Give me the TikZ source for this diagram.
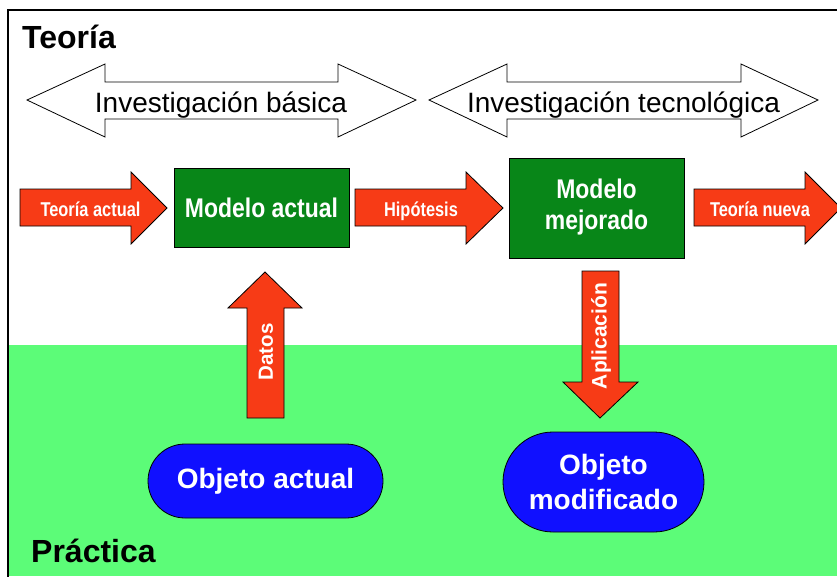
\documentclass[tikz,border=0pt]{standalone}
\usepackage{fontspec}
\setmainfont{Liberation Sans}
\usetikzlibrary{shapes.misc}
\definecolor{redA}{RGB}{247,59,22}
\definecolor{greenD}{RGB}{8,134,24}
\definecolor{blueO}{RGB}{16,16,255}
\definecolor{greenL}{RGB}{92,252,120}
\tikzset{
  redarrow/.style={fill=redA, draw=black, line width=0.8pt, line join=miter},
  dblarrow/.style={fill=white, draw=black, line width=0.8pt},
  modelbox/.style={rectangle, fill=greenD, draw=black, line width=0.8pt, text=white, font=\bfseries\fontsize{27}{32}\selectfont, align=center},
  objbox/.style={rectangle, fill=blueO, draw=black, line width=0.8pt, text=white, font=\bfseries\fontsize{28}{35}\selectfont, align=center},
  arrowtext/.style={text=white, font=\bfseries\fontsize{20}{22}\selectfont, inner sep=0pt},
  bigtext/.style={font=\fontsize{28}{30}\selectfont, inner sep=0pt},
  headtext/.style={font=\bfseries\fontsize{32}{34}\selectfont, inner sep=0pt}
}
\newcommand{\narrow}[1]{\scalebox{0.85}[1]{#1}}
\newcommand{\narrowb}[1]{\scalebox{0.82}[1]{#1}}
\begin{document}
\begin{tikzpicture}[x=1pt,y=-1pt]
\useasboundingbox (0,0) rectangle (837,576);
\clip (0,0) rectangle (837,576);
% background regions
\fill[white] (0,0) rectangle (837,576);
\fill[greenL] (9,345) rectangle (837,576);
\draw[line width=2.5pt] (8,577) -- (8,10) -- (840,10);
% headings
\node[headtext, anchor=base west] (teoria) at (22,48) {Teoría};
\node[headtext, anchor=base west] (practica) at (31,562) {Práctica};
% double arrows
\draw[dblarrow] (27,100) -- (105,64) -- (105,82) -- (338,82) -- (338,64) -- (416,100) -- (338,137) -- (338,119) -- (105,119) -- (105,137) -- cycle;
\node[bigtext, anchor=base] (basica) at (221,112) {Investigación básica};
\draw[dblarrow] (429,100) -- (507,64) -- (507,82) -- (741,82) -- (741,64) -- (818,100) -- (741,137) -- (741,119) -- (507,119) -- (507,137) -- cycle;
\node[bigtext, anchor=base] (tecno) at (623.5,112) {Investigación tecnológica};
% red horizontal arrows
\draw[redarrow] (20,189) -- (131,189) -- (131,172) -- (167,208) -- (131,244) -- (131,226) -- (20,226) -- cycle;
\node[arrowtext, anchor=base] (tactual) at (90.5,216) {\narrowb{Teoría actual}};
\draw[redarrow] (355,189) -- (466,189) -- (466,172) -- (503,208) -- (466,244) -- (466,226) -- (355,226) -- cycle;
\node[arrowtext, anchor=base] (hipo) at (421,216) {\narrowb{Hipótesis}};
\draw[redarrow] (694,189) -- (805,189) -- (805,172) -- (841,208) -- (805,244) -- (805,226) -- (694,226) -- cycle;
\node[arrowtext, anchor=base] (tnueva) at (760,216) {\narrowb{Teoría nueva}};
% model boxes
\node[modelbox, minimum width=175pt, minimum height=79pt] (mactual) at (261.5,207.5) {\narrow{Modelo actual}};
\node[modelbox, minimum width=175pt, minimum height=100pt] (mmejor) at (596.5,208) {\narrow{\begin{tabular}{@{}c@{}}Modelo\\[-1pt]mejorado\end{tabular}}};
% vertical arrows
\draw[redarrow] (247,418) -- (247,308) -- (228,308) -- (265,272) -- (302,308) -- (284,308) -- (284,418) -- cycle;
\node[arrowtext, font=\bfseries\fontsize{20.5}{22}\selectfont, rotate=90] (datos) at (266,352) {Datos};
\draw[redarrow] (582,271) -- (582,382) -- (563,382) -- (600,418) -- (638,382) -- (619,382) -- (619,271) -- cycle;
\node[arrowtext, font=\bfseries\fontsize{21}{22}\selectfont, rotate=90] (aplic) at (601,336) {Aplicación};
% objects
\node[objbox, minimum width=235pt, minimum height=74pt, rounded corners=37pt] (oactual) at (265.5,481) {Objeto actual};
\node[objbox, minimum width=201pt, minimum height=100pt, rounded corners=50pt] (omod) at (603.5,482) {Objeto\\modificado};
\end{tikzpicture}
\end{document}
